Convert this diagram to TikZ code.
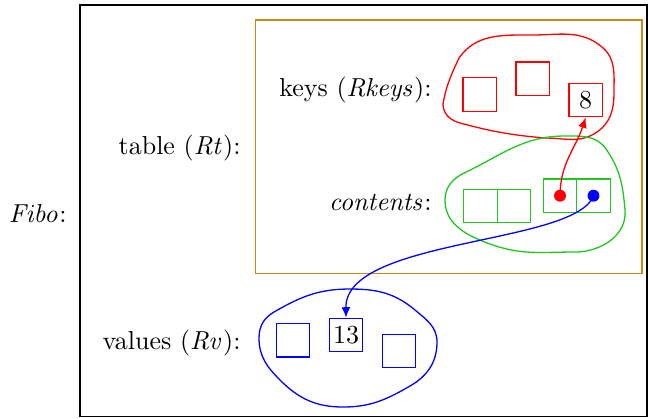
\documentclass[tikz,border=0pt]{standalone}
\usetikzlibrary{arrows.meta}
\definecolor{tblorange}{RGB}{204,136,17}
\definecolor{ctgreen}{RGB}{30,200,30}
\begin{document}
\begin{tikzpicture}[x=0.385pt,y=-0.385pt,
  cell/.style={draw,minimum size=12.9pt,inner sep=0pt,line width=0.5pt,text=black},
  lbl/.style={anchor=east,inner sep=0pt},
  blob/.style={line width=0.5pt},
  dot/.style={circle,inner sep=0pt,minimum size=4.6pt},
  ptr/.style={line width=0.5pt,-{Latex[length=4pt,width=3.4pt]}}]
\useasboundingbox (0,0) rectangle (648,418);
% outer frame
\draw[line width=0.5pt] (80,5) rectangle (647,416.5);
\node[lbl] (fibo) at (67,213) {$\mathit{Fibo}$:};
% table frame
\draw[tblorange,line width=0.5pt] (255.5,20) rectangle (642,273.5);
\node[lbl] (tbl) at (241,148) {table ($\mathit{Rt}$):};
\node[lbl] (vals) at (241,343) {values ($\mathit{Rv}$):};
\node[lbl] (keys) at (432,90) {keys ($\mathit{Rkeys}$):};
\node[lbl] (cont) at (432,202) {$\mathit{contents}$:};
% keys blob
\draw[red,blob] (443,104) to[out=80,in=-115] (459,58) to[out=55,in=180] (532,35)
  to[out=0,in=140] (602,47) to[out=-40,in=90] (614,92) to[out=-90,in=35] (597,132)
  to[out=-145,in=0] (545,138) to[out=175,in=-15] (460,123) to[out=165,in=-90] (443,104) -- cycle;
\node[cell,draw=red] (k1) at (479.7,94.4) {};
\node[cell,draw=red] (k2) at (532.7,78.7) {};
\node[cell,draw=red] (k3) at (585.7,100) {8};
% contents blob
\draw[ctgreen,blob] (445,200) to[out=90,in=-150] (462,174) to[out=25,in=180] (565,136)
  to[out=0,in=125] (606,149) to[out=-55,in=95] (625,210) to[out=-85,in=0] (575,252)
  to[out=180,in=-20] (490,244) to[out=160,in=-90] (445,200) -- cycle;
\node[cell,draw=ctgreen] (c1a) at (480.5,206) {};
\node[cell,draw=ctgreen] (c1b) at (514,206) {};
\node[cell,draw=ctgreen] (c2a) at (560,195.7) {};
\node[cell,draw=ctgreen] (c2b) at (593.5,195.7) {};
% values blob
\draw[blue,blob] (259,338) to[out=90,in=-150] (274,312) to[out=30,in=180] (350,289)
  to[out=0,in=140] (415,310) to[out=-40,in=90] (437,342) to[out=-90,in=30] (410,386)
  to[out=-150,in=0] (343,407) to[out=180,in=-45] (280,380) to[out=135,in=-90] (259,338) -- cycle;
\node[cell,draw=blue] (v1) at (293,340.3) {};
\node[cell,draw=blue] (v2) at (346,335) {13};
\node[cell,draw=blue] (v3) at (399,351) {};
% pointers
\node[dot,fill=red] (rd) at (c2a.center) {};
\node[dot,fill=blue] (bd) at (c2b.center) {};
\draw[red,ptr] (rd.center) to[out=90,in=-108] (k3.south);
\draw[blue,ptr] (bd.center) .. controls (575,245) and (345,238) .. (v2.north);
\end{tikzpicture}
\end{document}
